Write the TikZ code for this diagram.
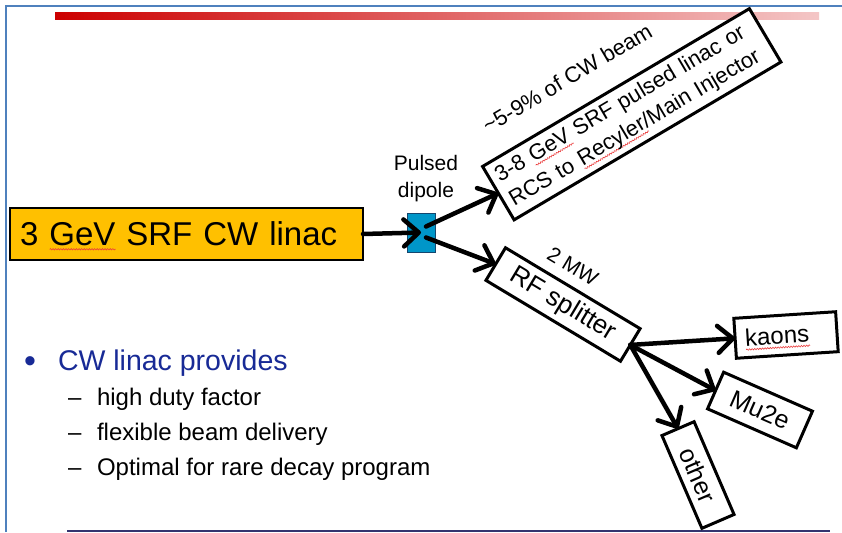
\documentclass[tikz,border=0pt]{standalone}
\usepackage{fontspec}
\setmainfont{Liberation Sans}
\usetikzlibrary{arrows.meta,calc,decorations.pathmorphing}

\definecolor{framebl}{RGB}{79,129,189}
\definecolor{rulenavy}{RGB}{52,52,112}
\definecolor{barred}{RGB}{204,0,0}
\definecolor{barpink}{RGB}{244,198,198}
\definecolor{linacorange}{RGB}{255,192,0}
\definecolor{dipoleblue}{RGB}{0,150,200}
\definecolor{dipoleedge}{RGB}{20,70,110}
\definecolor{bulletblue}{RGB}{24,42,150}
\definecolor{spellred}{RGB}{235,60,60}

% red wavy spell-check underline under a word
\newsavebox\spellbox
\newcommand\spell[1]{\sbox\spellbox{#1}%
  \rlap{\smash{\tikz[x=1pt,y=1pt,baseline=0pt]
    \draw[spellred, line width=0.6pt, decorate,
          decoration={snake, amplitude=0.7pt, segment length=2.6pt}]
      (0,-3.5) -- (\the\wd\spellbox,-3.5);}}%
  \usebox\spellbox}

\newcommand\fs[1]{\fontsize{#1}{1.2\dimexpr#1pt\relax}\selectfont}

\tikzset{
  boxed/.style={draw, line width=3pt, fill=white, inner sep=0pt, outer sep=0pt},
  beam/.style={line width=4.5pt, line cap=round,
    -{Straight Barb[length=15pt,width=27pt,round]}},
  note/.style={inner sep=0pt, outer sep=0pt},
}

\begin{document}
\begin{tikzpicture}[x=1pt,y=-1pt]
\useasboundingbox (0,0) rectangle (842,532);
\fill[white] (0,0) rectangle (842,532);

% slide frame and title bar
\draw[framebl, line width=2pt] (6,532) -- (6,6) -- (842,6);
\shade[left color=barred, right color=barpink] (55,12.7) rectangle (819,19.3);
\draw[rulenavy, line width=2pt] (67,531) -- (830,531);

% source linac and pulsed dipole
\node[boxed, fill=linacorange, line width=2.6pt, minimum height=52pt,
      inner xsep=10pt, text width=333pt, align=left, font=\fs{33}]
      (linac) at (186.5,234) {3 \spell{GeV} SRF CW linac};
\node[draw=dipoleedge, fill=dipoleblue, line width=0.8pt,
      minimum width=28pt, minimum height=39pt, inner sep=0pt]
      (dipole) at (421,232.5) {};
\node[note, align=center, font=\fontsize{21}{27}\selectfont]
      (pulsedlbl) at (426,179) {Pulsed\\dipole};

% pulsed branch
\node[boxed, rotate=30.6, minimum width=310pt, minimum height=62pt,
      text width=296pt, align=left, font=\fontsize{22}{28}\selectfont]
      (inj) at (631.75,114.25)
      {3-8 \spell{GeV} SRF pulsed linac or\\RCS to \spell{Recyler}/Main Injector};
\node[note, rotate=30.6, font=\fs{22}] (frac) at (567,78)
      {\textasciitilde5-9\% of CW beam};

% CW branch
\node[boxed, rotate=-31, minimum width=157pt, minimum height=38pt, font=\fs{26}]
      (split) at (563,304.5) {RF splitter};
\node[note, rotate=-31, font=\fs{21}] (mw) at (573,266) {2 MW};

\node[boxed, rotate=3.7, minimum height=40pt, inner xsep=10pt,
      text width=82pt, align=left, font=\fs{24}]
      (kaons) at (786,335) {\spell{kaons}};
\node[boxed, rotate=-23.7, minimum width=97pt, minimum height=40pt, font=\fs{25}]
      (mu2e) at (760,410) {Mu2e};
\node[boxed, rotate=-66.7, minimum width=101pt, minimum height=35pt, font=\fs{25}]
      (other) at (698,475) {other};

% beam lines
\draw[beam] (linac.east) -- (dipole.center);
\draw[beam] ([shift={(5pt,6pt)}]dipole.center) -- (inj.west);
\draw[beam] ([shift={(5pt,-5pt)}]dipole.center) -- (split.west);
\draw[beam] (split.east) -- (kaons.west);
\draw[beam] (split.east) -- (mu2e.west);
\draw[beam] (split.east) -- (other.west);

% bullet list
\node[note, anchor=base west, text=bulletblue, font=\fs{34}] (dot) at (24,372) {\textbullet};
\node[note, anchor=base west, text=bulletblue, font=\fs{28.5}] (head) at (58,370) {CW linac provides};
\node[note, anchor=base west, font=\fs{24}] (d1) at (68,405) {\textendash};
\node[note, anchor=base west, font=\fs{24}] (t1) at (97,405) {high duty factor};
\node[note, anchor=base west, font=\fs{24}] (d2) at (68,440) {\textendash};
\node[note, anchor=base west, font=\fs{24}] (t2) at (97,440) {flexible beam delivery};
\node[note, anchor=base west, font=\fs{24}] (d3) at (68,475) {\textendash};
\node[note, anchor=base west, font=\fs{24}] (t3) at (97,475) {Optimal for rare decay program};
\end{tikzpicture}
\end{document}
